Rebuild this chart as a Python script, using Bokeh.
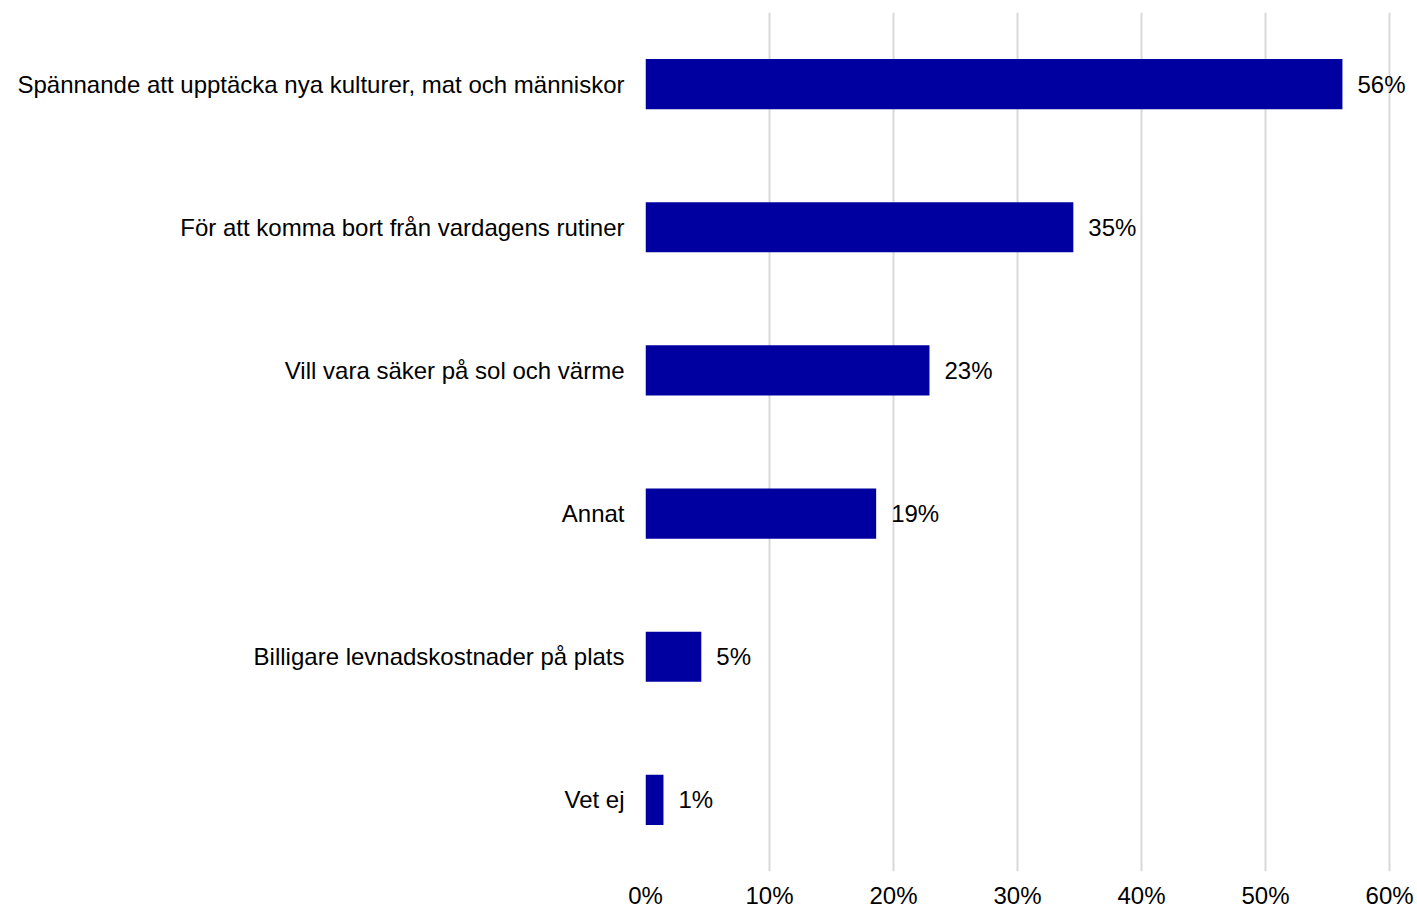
from bokeh.plotting import figure
from bokeh.models import ColumnDataSource, FixedTicker, Range1d, FactorRange, CustomJSTickFormatter
from bokeh.core.properties import value
from bokeh.embed import file_html
from bokeh.resources import INLINE

categories = [
    "Spännande att upptäcka nya kulturer, mat och människor",
    "För att komma bort från vardagens rutiner",
    "Vill vara säker på sol och värme",
    "Annat",
    "Billigare levnadskostnader på plats",
    "Vet ej",
]
shares = [56.2, 34.5, 22.9, 18.6, 4.5, 1.45]
share_labels = ["56%", "35%", "23%", "19%", "5%", "1%"]
x_ticks = [0, 10, 20, 30, 40, 50, 60]

FONT = "Liberation Sans"
BAR = "#0000A0"

source = ColumnDataSource(dict(cat=categories, val=shares, lab=share_labels))

p = figure(
    width=1417, height=911,
    y_range=FactorRange(factors=list(reversed(categories)), range_padding=0),
    x_range=Range1d(0, 61.85),
    output_backend="svg", toolbar_location=None,
    min_border_left=645, min_border_right=5, min_border_top=12, min_border_bottom=40,
)
p.outline_line_color = None
p.background_fill_color = "white"
p.border_fill_color = "white"

p.hbar(y="cat", right="val", left=0, height=0.35, source=source,
       fill_color=BAR, line_color=None)

p.text(x="val", y="cat", text="lab", source=source, x_offset=15,
       text_align="left", text_baseline="middle",
       text_font=value(FONT), text_font_size="24px", text_color="black")

p.xaxis.ticker = FixedTicker(ticks=x_ticks)
p.xaxis.formatter = CustomJSTickFormatter(code="return tick + '%';")
p.xaxis.axis_line_color = None
p.xaxis.major_tick_line_color = None
p.xaxis.minor_tick_line_color = None
p.xaxis.major_label_text_font = FONT
p.xaxis.major_label_text_font_size = "24px"
p.xaxis.major_label_text_color = "black"
p.xaxis.major_label_standoff = 4

p.yaxis.axis_line_color = None
p.yaxis.major_tick_line_color = None
p.yaxis.minor_tick_line_color = None
p.yaxis.major_label_text_font = FONT
p.yaxis.major_label_text_font_size = "24px"
p.yaxis.major_label_text_color = "black"
p.yaxis.major_label_standoff = 15

p.xgrid.grid_line_color = "#d9d9d9"
p.xgrid.grid_line_width = 2
p.ygrid.grid_line_color = None

open("out.html", "w").write(file_html(p, INLINE))
